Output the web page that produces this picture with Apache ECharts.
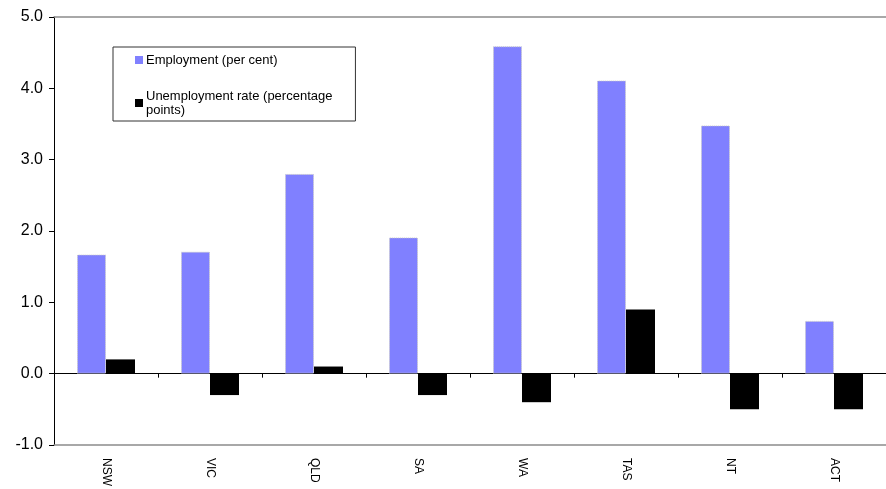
<!DOCTYPE html>
<html>
<head>
<meta charset="utf-8">
<script src="https://cdn.jsdelivr.net/npm/echarts@6/dist/echarts.min.js"></script>
<style>
html,body{margin:0;padding:0;background:#fff;}
#chart{width:886px;height:489px;}
</style>
</head>
<body>
<div id="chart"></div>
<script>
const categories = ['NSW', 'VIC', 'QLD', 'SA', 'WA', 'TAS', 'NT', 'ACT'];
const employment = [1.67, 1.71, 2.80, 1.91, 4.59, 4.11, 3.48, 0.74];
const unemployment = [0.2, -0.3, 0.1, -0.3, -0.4, 0.9, -0.5, -0.5];
const yTicks = { min: -1, max: 5, interval: 1 };

const chart = echarts.init(document.getElementById('chart'), null, { renderer: 'canvas' });
const font = 'Liberation Sans, Arial, sans-serif';
chart.setOption({
  animation: false,
  backgroundColor: '#fff',
  grid: { left: 54, top: 17, bottom: 44, right: -5, show: false },
  legend: {
    orient: 'vertical',
    left: 113, top: 47,
    padding: [6, 23, 4, 22],
    itemGap: 22,
    itemWidth: 8, itemHeight: 8,
    itemStyle: { borderWidth: 0 },
    borderColor: '#333', borderWidth: 1,
    backgroundColor: '#fff',
    textStyle: { fontFamily: font, fontSize: 13, color: '#000', lineHeight: 14, padding: [0, 0, 0, -2] },
    formatter: function (name) { return name.replace(' points)', '\npoints)'); },
    data: [
      { name: 'Employment (per cent)', icon: 'rect' },
      { name: 'Unemployment rate (percentage points)', icon: 'rect' }
    ]
  },
  xAxis: [
    {
      type: 'category', data: categories,
      axisLine: { onZero: true, lineStyle: { color: '#000', width: 1 } },
      axisTick: { show: true, length: 4, lineStyle: { color: '#000' } },
      axisLabel: { show: false }
    },
    {
      type: 'category', data: categories, position: 'bottom',
      axisLine: { show: true, onZero: false, lineStyle: { color: '#8c8c8c', width: 1.5 } },
      axisTick: { show: false },
      axisLabel: { rotate: -90, margin: 13, fontFamily: font, fontSize: 12, color: '#000' }
    },
    {
      type: 'category', data: categories, position: 'top',
      axisLine: { show: true, onZero: false, lineStyle: { color: '#8c8c8c', width: 1.5 } },
      axisTick: { show: false },
      axisLabel: { show: false }
    }
  ],
  yAxis: {
    type: 'value', min: yTicks.min, max: yTicks.max, interval: yTicks.interval,
    splitLine: { show: false },
    axisLine: { show: true, onZero: false, lineStyle: { color: '#000', width: 1 } },
    axisTick: { show: true, length: 5, lineStyle: { color: '#000' } },
    axisLabel: {
      margin: 11, fontFamily: font, fontSize: 16, color: '#000',
      formatter: function (v) { return v.toFixed(1); }
    }
  },
  series: [
    {
      name: 'Employment (per cent)', type: 'bar', xAxisIndex: 0,
      data: employment, barWidth: 29, barGap: '0%',
      itemStyle: { color: '#8080ff', borderColor: '#c8c8c8', borderWidth: 1, borderType: 'dotted' }
    },
    {
      name: 'Unemployment rate (percentage points)', type: 'bar', xAxisIndex: 0,
      data: unemployment, barWidth: 29, barGap: '0%',
      itemStyle: { color: '#000000' }
    }
  ]
});
</script>
</body>
</html>
